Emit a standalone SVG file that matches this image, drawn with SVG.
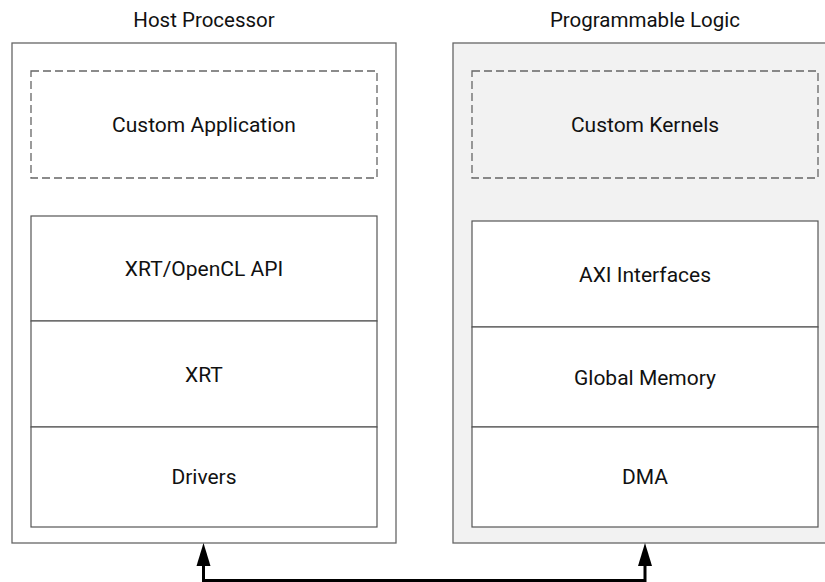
<svg xmlns="http://www.w3.org/2000/svg" width="825" height="582" viewBox="0 0 825 582">
<style>
.outer{stroke:#666;stroke-width:1.3;}
.dash{fill:none;stroke:#666;stroke-width:1.3;stroke-dasharray:8 4;}
.layer{fill:#fff;stroke:#555;stroke-width:1.2;}
.t{font-family:Roboto,"Liberation Sans",sans-serif;font-size:21px;fill:#111;text-anchor:middle;}
.title{font-family:Roboto,"Liberation Sans",sans-serif;font-size:20.5px;fill:#111;text-anchor:middle;}
.conn{fill:none;stroke:#000;stroke-width:3;}
</style>
<rect width="825" height="582" fill="#fff"/>
<g id="host">
<text class="title" x="204" y="26.5">Host Processor</text>
<rect class="outer" x="12" y="43" width="384" height="500" fill="#fff"/>
</g>
<g id="pl">
<text class="title" x="645" y="26.5">Programmable Logic</text>
<rect class="outer" x="453" y="43" width="384" height="500" fill="#f2f2f2"/>
</g>
<g id="custom-app">
<rect class="dash" x="31" y="71" width="346" height="107"/>
<text class="t" x="204" y="131.5">Custom Application</text>
</g>
<g id="xrt-api">
<rect class="layer" x="31" y="216" width="346" height="105"/>
<text class="t" x="204" y="276">XRT/OpenCL API</text>
</g>
<g id="xrt">
<rect class="layer" x="31" y="321" width="346" height="106"/>
<text class="t" x="204" y="381.5">XRT</text>
</g>
<g id="drivers">
<rect class="layer" x="31" y="427" width="346" height="100"/>
<text class="t" x="204" y="483.5">Drivers</text>
</g>
<g id="custom-kernels">
<rect class="dash" x="472" y="71" width="346" height="107"/>
<text class="t" x="645" y="131.5">Custom Kernels</text>
</g>
<g id="axi">
<rect class="layer" x="472" y="221" width="346" height="106"/>
<text class="t" x="645" y="281.5">AXI Interfaces</text>
</g>
<g id="gmem">
<rect class="layer" x="472" y="327" width="346" height="100"/>
<text class="t" x="645" y="384.5">Global Memory</text>
</g>
<g id="dma">
<rect class="layer" x="472" y="427" width="346" height="100"/>
<text class="t" x="645" y="484">DMA</text>
</g>
<g id="connectors">
<path class="conn" d="M203.5,564 V580.5 H645 V564"/>
<polygon points="203.5,543 196.5,566 210.5,566" fill="#000"/>
<polygon points="645,543 638,566 652,566" fill="#000"/>
</g>
</svg>
